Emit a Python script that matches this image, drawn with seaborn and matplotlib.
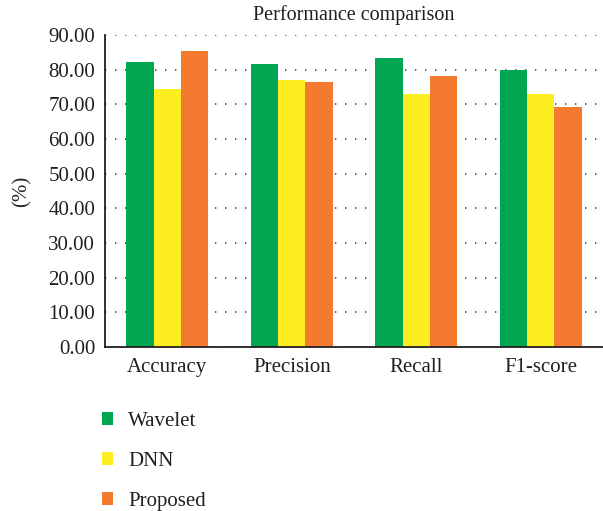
import pandas as pd
import matplotlib
matplotlib.use("Agg")
import matplotlib.pyplot as plt
import seaborn as sns

metrics = ["Accuracy", "Precision", "Recall", "F1-score"]
methods = ["Wavelet", "DNN", "Proposed"]
wavelet = [82.2, 81.6, 83.4, 79.9]
dnn = [74.4, 77.0, 73.0, 73.0]
proposed = [85.4, 76.4, 78.2, 69.2]
colors = ["#00A651", "#FCEE21", "#F47A30"]

rows = []
for name, vals in zip(methods, [wavelet, dnn, proposed]):
    for m, v in zip(metrics, vals):
        rows.append({"Metric": m, "Method": name, "Value": v})
df = pd.DataFrame(rows)

sns.set_style("white")
plt.rcParams["font.family"] = ["Liberation Serif", "DejaVu Serif"]
plt.rcParams["text.color"] = "#231f20"

fig = plt.figure(figsize=(6.03, 5.11), dpi=100)
ax = fig.add_axes([105 / 603, 1 - 347 / 511, 498 / 603, 312 / 511])

sns.barplot(data=df, x="Metric", y="Value", hue="Method", order=metrics,
            hue_order=methods, palette=colors, width=0.66, saturation=1,
            linewidth=0, ax=ax)

ax.set_ylim(0, 90)
ax.set_xlim(-0.5, 3.5)
ax.set_yticks(range(0, 91, 10))
ax.set_yticklabels([f"{t:.2f}" for t in range(0, 91, 10)])
ax.tick_params(axis="both", length=0, labelsize=15, labelcolor="#231f20")
ax.tick_params(axis="y", pad=7)
ax.tick_params(axis="x", pad=8)
ax.set_xlabel("")
ax.set_ylabel("(%)", fontsize=15, labelpad=12)
ax.set_title("Performance comparison", fontsize=14.5, pad=11)

ax.set_axisbelow(True)
ax.yaxis.grid(True, color="#444444", linestyle=(0, (0.8, 5.2)), linewidth=1.2)
ax.xaxis.grid(False)
sns.despine(ax=ax)
for side in ["left", "bottom"]:
    ax.spines[side].set_color("#231f20")
    ax.spines[side].set_linewidth(1.3)

handles, labels = ax.get_legend_handles_labels()
ax.get_legend().remove()
fig.legend(handles, labels, loc="upper left", bbox_to_anchor=(102 / 603, 1 - 412 / 511),
           frameon=False, fontsize=15, handlelength=0.55, handleheight=0.55,
           handletextpad=0.7, labelspacing=1.0, borderpad=0, borderaxespad=0)

fig.savefig("out.png", dpi=100)
